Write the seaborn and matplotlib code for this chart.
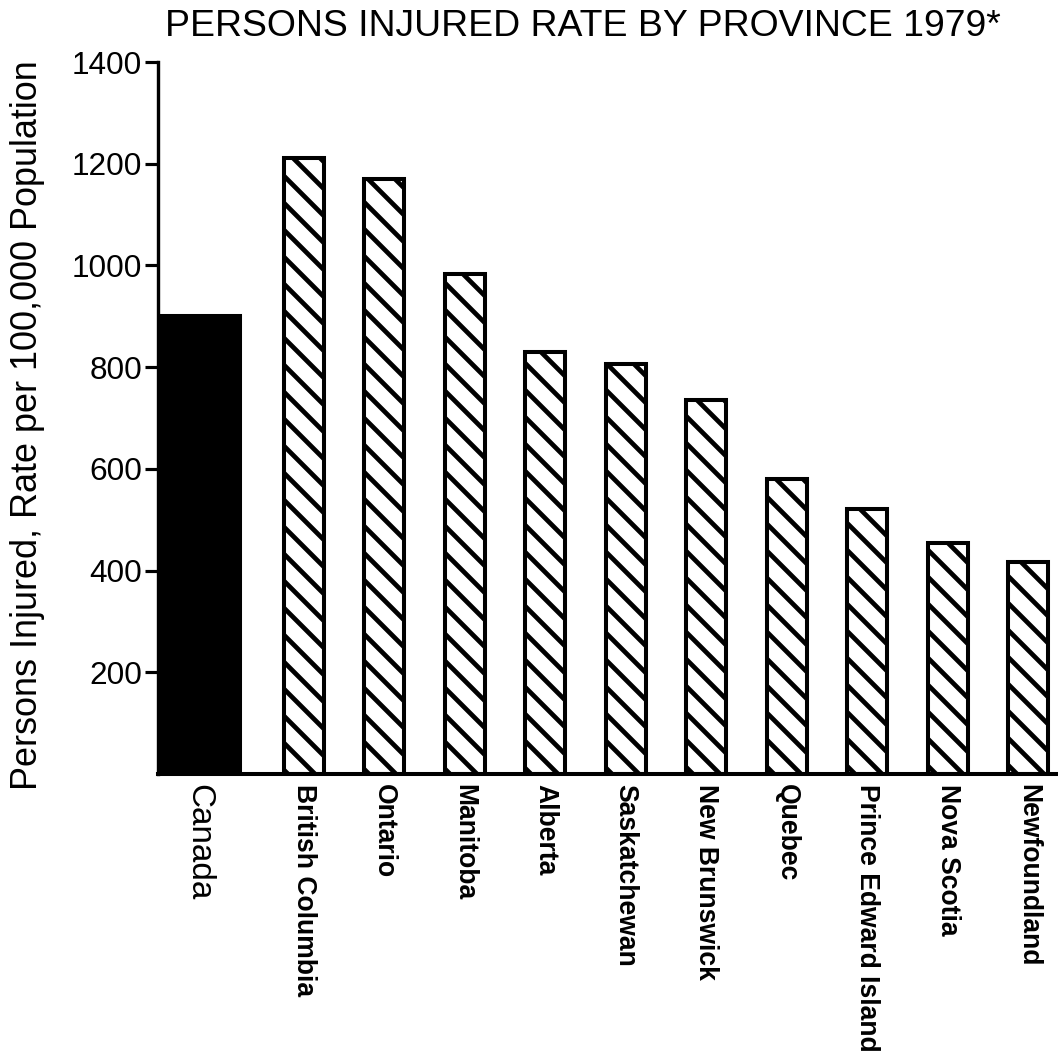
"""
Persons injured rate by province, 1979 - scanned bar chart redrawn with seaborn.
"""

import matplotlib

matplotlib.use("Agg")

import matplotlib.pyplot as plt
import pandas as pd
import seaborn as sns

# === DATA ===
regions = [
    "Canada",
    "British Columbia",
    "Ontario",
    "Manitoba",
    "Alberta",
    "Saskatchewan",
    "New Brunswick",
    "Quebec",
    "Prince Edward Island",
    "Nova Scotia",
    "Newfoundland",
]
rate = [900, 1211, 1170, 983, 830, 806, 735, 580, 521, 454, 417]
y_ticks = [200, 400, 600, 800, 1000, 1200, 1400]

TITLE = "PERSONS INJURED RATE BY PROVINCE 1979*"
Y_LABEL = "Persons Injured, Rate per 100,000 Population"

# === STYLE ===
DPI = 162  # hatch spacing scales with dpi, 162 gives the wide stripes of the scan
W_PX, H_PX = 1058, 1063

sns.set_style("white")
plt.rcParams["font.family"] = ["Liberation Sans", "DejaVu Sans"]
plt.rcParams["hatch.linewidth"] = 2.1
plt.rcParams["hatch.color"] = "black"
plt.rcParams["text.color"] = "black"
plt.rcParams["xtick.color"] = "black"
plt.rcParams["ytick.color"] = "black"
plt.rcParams["axes.labelcolor"] = "black"

df = pd.DataFrame({"region": regions, "rate": rate})

fig = plt.figure(figsize=(W_PX / DPI, H_PX / DPI), dpi=DPI)
fig.patch.set_facecolor("white")
ax = fig.add_axes((158 / W_PX, 1 - 774 / H_PX, 1 - 158 / W_PX, (774 - 62) / H_PX))

sns.barplot(
    data=df,
    x="region",
    y="rate",
    order=regions,
    color="white",
    width=0.5,
    edgecolor="black",
    linewidth=1.8,
    saturation=1,
    ax=ax,
)

# Canada (national figure) is a wide solid bar sitting on the y axis,
# provinces are narrow hatched bars
bars = [p for p in ax.patches]
canada = bars[0]
right_edge = canada.get_x() + canada.get_width() - 0.04
canada_width = 1.02
canada.set_width(canada_width)
canada.set_x(right_edge - canada_width)
canada.set_facecolor("black")
for b in bars[1:]:
    b.set_hatch("\\\\")

ax.set_xlim(canada.get_x(), len(regions) - 0.63)
ax.set_ylim(0, 1400)

# ticks + labels
tick_pos = [canada.get_x() + canada_width / 2] + list(range(1, len(regions)))
ax.set_xticks(tick_pos)
ax.set_xticklabels(regions, rotation=-90, ha="center", va="top")
for i, lbl in enumerate(ax.get_xticklabels()):
    if i == 0:
        lbl.set_fontsize(14.8)
        lbl.set_fontweight("normal")
    else:
        lbl.set_fontsize(11.8)
        lbl.set_fontweight("bold")
ax.tick_params(axis="x", length=0, pad=4.5)

ax.set_yticks(y_ticks)
ax.set_yticklabels([str(t) for t in y_ticks], fontsize=14)
ax.tick_params(axis="y", direction="out", length=6, width=1.4, pad=1.0, left=True)

ax.set_xlabel("")
ax.set_ylabel(Y_LABEL, fontsize=16)
ax.yaxis.set_label_coords(-0.125, 0.49)

sns.despine(ax=ax, top=True, right=True)
ax.spines["left"].set_linewidth(1.5)
ax.spines["bottom"].set_linewidth(1.8)
ax.spines["left"].set_color("black")
ax.spines["bottom"].set_color("black")

fig.text(583 / W_PX, 1 - 26 / H_PX, TITLE, ha="center", va="center", fontsize=16.6)

fig.savefig("out.png", dpi=DPI, facecolor="white")
plt.close(fig)
